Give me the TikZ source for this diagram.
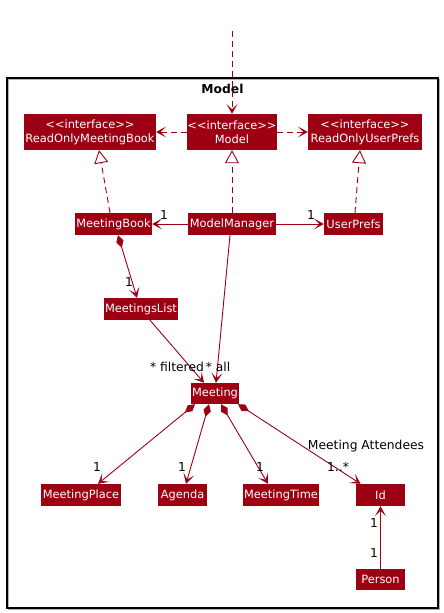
\documentclass[tikz,border=0pt]{standalone}
\usepackage{fontspec}
\setmainfont{DejaVu Sans}
\usetikzlibrary{arrows.meta,calc}
\definecolor{mred}{HTML}{9D0012}
\newcommand{\intf}{<\kern0pt<interface>\kern0pt>}
\begin{document}
\begin{tikzpicture}[x=1pt,y=-1pt,
  cls/.style={fill=mred,text=white,inner sep=0pt,font=\fontsize{11.4}{14}\selectfont,align=center},
  lab/.style={inner sep=0pt,font=\fontsize{12.3}{14}\selectfont,text=black},
  conn/.style={draw=mred,line width=0.9pt},
  vtip/.style={-{Stealth[length=10pt,width=11pt,inset=5.5pt]}},
  dtip/.style={{Diamond[length=13pt,width=7.5pt]}-{Stealth[length=10pt,width=11pt,inset=5.5pt]}},
  rtip/.style={-{Triangle[length=13pt,width=14pt,fill=white]}},
  dashln/.style={dash pattern=on 6pt off 4pt}
]
\useasboundingbox (0,0) rectangle (444,613);
% frame
\draw[gray!60,line width=1.3pt] (8.5,79.5) rectangle (439.5,609.5);
\draw[black,line width=1.2pt] (7,78) rectangle (438,608);
\node[font=\fontsize{12.3}{14}\selectfont\bfseries,inner sep=0pt] (title) at (222.5,89) {Model};

% nodes
\node[cls,minimum width=132pt,minimum height=36pt] (romb) at (90,132) {\intf\\ReadOnlyMeetingBook};
\node[cls,minimum width=80pt,minimum height=36pt] (model) at (232,132) {\intf\\Model};
\node[cls,minimum width=114pt,minimum height=36pt] (roup) at (365,132) {\intf\\ReadOnlyUserPrefs};
\node[cls,minimum width=77pt,minimum height=22pt] (mb) at (113.5,224) {MeetingBook};
\node[cls,minimum width=88pt,minimum height=22pt] (mm) at (232,224) {ModelManager};
\node[cls,minimum width=59pt,minimum height=22pt] (up) at (353.5,224) {UserPrefs};
\node[cls,minimum width=74pt,minimum height=22pt] (ml) at (141,309) {MeetingsList};
\node[cls,minimum width=48pt,minimum height=21pt] (mt) at (215,393.5) {Meeting};
\node[cls,minimum width=80pt,minimum height=22pt] (mp) at (81,495) {MeetingPlace};
\node[cls,minimum width=49pt,minimum height=22pt] (ag) at (182.5,495) {Agenda};
\node[cls,minimum width=76pt,minimum height=22pt] (mtime) at (281,495) {MeetingTime};
\node[cls,minimum width=49pt,minimum height=22pt] (id) at (380.5,495) {Id};
\node[cls,minimum width=49pt,minimum height=21pt] (person) at (380.5,579.5) {Person};

\coordinate (top) at (232,31);

% connectors
\draw[conn,dashln,vtip] (top) -- (model.north);
\draw[conn,dashln,vtip] (model.west) -- (romb.east);
\draw[conn,dashln,vtip] (model.east) -- (roup.west);
\draw[conn,dashln,rtip] (mm.north) -- (model.south);
\draw[conn,dashln,rtip] ([xshift=-3.5pt]mb.north) -- ([xshift=9pt]romb.south);
\draw[conn,dashln,rtip] ([xshift=1.5pt]up.north) -- ([xshift=-5pt]roup.south);
\draw[conn,vtip] (mm.west) -- (mb.east);
\draw[conn,vtip] (mm.east) -- (up.west);
\draw[conn,dtip] ([xshift=4.5pt]mb.south) -- ([xshift=-4pt]ml.north);
\draw[conn,vtip] ([xshift=9pt]ml.south) -- ([xshift=-11pt]mt.north);
\draw[conn,vtip] ([xshift=-2pt]mm.south) -- ([xshift=1pt]mt.north);
\draw[conn,dtip] ([xshift=-20pt]mt.south) -- ([xshift=17pt]mp.north);
\draw[conn,dtip] ([xshift=-6pt]mt.south) -- ([xshift=3.5pt]ag.north);
\draw[conn,dtip] ([xshift=6pt]mt.south) -- ([xshift=-13pt]mtime.north);
\draw[conn,dtip] ([xshift=23pt]mt.south) -- ([xshift=-20pt]id.north);
\draw[conn,vtip] (person.north) -- (id.south);

% labels
\node[lab] (l1) at (164,215) {1};
\node[lab] (l2) at (311,215) {1};
\node[lab] (l3) at (129,282) {1};
\node[lab] (l4) at (177,367) {* filtered};
\node[lab] (l5) at (218,367) {* all};
\node[lab] (l6) at (97,467) {1};
\node[lab] (l7) at (182,467) {1};
\node[lab] (l8) at (260,467) {1};
\node[lab] (l9) at (366,446) {Meeting Attendees};
\node[lab] (l10) at (338,467) {1..*};
\node[lab] (l11) at (374,523) {1};
\node[lab] (l12) at (374,553) {1};
\end{tikzpicture}
\end{document}
